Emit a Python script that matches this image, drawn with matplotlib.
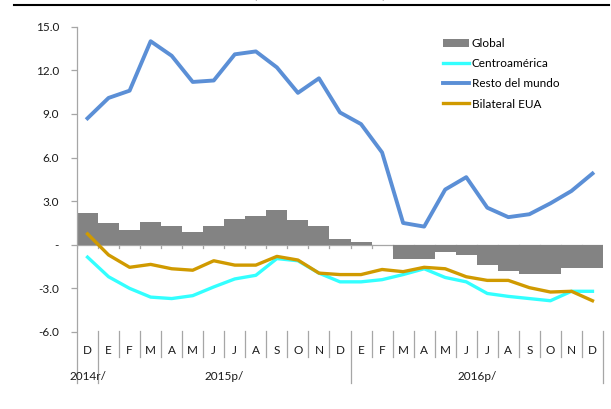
import numpy as np
import matplotlib
matplotlib.use("Agg")
import matplotlib.pyplot as plt
from matplotlib.lines import Line2D

plt.rcParams['font.family'] = ['Lato', 'DejaVu Sans']

# monthly data, Dec 2014 - Dec 2016
months = ["D", "E", "F", "M", "A", "M", "J", "J", "A", "S", "O", "N",
          "D", "E", "F", "M", "A", "M", "J", "J", "A", "S", "O", "N", "D"]
years = ["2014r/", "2015p/", "2016p/"]
year_spans = [(0, 1), (1, 13), (13, 25)]

global_vals = [2.2, 1.5, 1.0, 1.6, 1.3, 0.9, 1.3, 1.8, 2.0, 2.4, 1.7, 1.3,
               0.4, 0.2, 0.0, -1.0, -1.0, -0.5, -0.7, -1.4, -1.8, -2.0, -2.0, -1.6, -1.6]
centroamerica = [-0.85, -2.2, -3.0, -3.6, -3.7, -3.5, -2.9, -2.35, -2.1, -0.95, -1.1, -1.95,
                 -2.55, -2.55, -2.4, -2.05, -1.65, -2.25, -2.55, -3.35, -3.55, -3.7, -3.85, -3.2, -3.2]
resto_mundo = [8.7, 10.1, 10.6, 14.0, 13.0, 11.2, 11.3, 13.1, 13.3, 12.2, 10.45, 11.45,
               9.1, 8.3, 6.35, 1.5, 1.25, 3.8, 4.65, 2.55, 1.9, 2.1, 2.85, 3.7, 4.9]
bilateral_eua = [0.75, -0.7, -1.55, -1.35, -1.65, -1.75, -1.1, -1.4, -1.4, -0.8, -1.05, -1.95,
                 -2.05, -2.05, -1.7, -1.85, -1.55, -1.65, -2.2, -2.45, -2.45, -2.95, -3.25, -3.2, -3.85]

yticks = [15, 12, 9, 6, 3, 0, -3, -6]
ytick_labels = ["15.0", "12.0", "9.0", "6.0", "3.0", "-", "-3.0", "-6.0"]

axis_gray = "#A6A6A6"
fs = 8.5

fig = plt.figure(figsize=(6.11, 4.09), dpi=100)
ax = fig.add_axes([77 / 611, 1 - 332 / 409, 526 / 611, (332 - 26.7) / 409])

x = np.arange(len(months)) + 0.5
ax.bar(x, global_vals, width=1.0, color="#838383", linewidth=0, zorder=2, label="Global")
ax.plot(x, centroamerica, color="#33FFFF", lw=2.4, zorder=3, label="Centroamérica")
ax.plot(x, resto_mundo, color="#5B8FD6", lw=2.8, zorder=4, label="Resto del mundo")
ax.plot(x, bilateral_eua, color="#D09A00", lw=2.4, zorder=5, label="Bilateral EUA")

ax.set_xlim(0, len(months))
ax.set_ylim(-6, 15)

# zero line with small ticks between months
ax.axhline(0, color=axis_gray, lw=0.9, zorder=1)
for b in range(len(months) + 1):
    ax.plot([b, b], [0, -0.22], color=axis_gray, lw=0.9, zorder=1)

for s in ["top", "right", "bottom", "left"]:
    ax.spines[s].set_visible(False)

ax.set_yticks(yticks)
ax.set_yticklabels(ytick_labels)
ax.tick_params(axis="y", length=4, width=0.9, color=axis_gray, pad=9, labelsize=fs,
               labelcolor="#1a1a1a")
ax.set_xticks([])

# category axis below the plot
xt = ax.get_xaxis_transform()
ax.plot([0, 0], [1, -0.167], transform=xt, color=axis_gray, lw=0.9, clip_on=False)
for b in range(1, len(months) + 1):
    bottom = -0.167 if b in (1, 13, 25) else -0.082
    ax.plot([b, b], [0.002, bottom], transform=xt, color=axis_gray, lw=0.9, clip_on=False)
for xi, m in zip(x, months):
    ax.text(xi, -0.06, m, transform=xt, ha="center", va="center", fontsize=fs, color="#1a1a1a")
for (a, b), yr in zip(year_spans, years):
    ax.text((a + b) / 2, -0.145, yr, transform=xt, ha="center", va="center", fontsize=fs,
            color="#1a1a1a")

handles, labels = ax.get_legend_handles_labels()
order = [3, 0, 1, 2]
ax.legend([handles[i] for i in order], [labels[i] for i in order],
          loc="upper left", bbox_to_anchor=(443 / 611, 1 - 38 / 409),
          bbox_transform=fig.transFigure, frameon=False, fontsize=fs,
          borderpad=0, borderaxespad=0, labelspacing=0.78, handlelength=2.2,
          handletextpad=0.25)

# header rule and heading text above it
fig.add_artist(Line2D([14 / 611, 609 / 611], [1 - 5 / 409, 1 - 5 / 409],
                      transform=fig.transFigure, color="black", lw=1.5))
fig.text(320 / 611, 1 + 2 / 409, "(variaciones interanuales)", ha="center", va="baseline",
         fontsize=fs, color="#404040")

fig.savefig("out.png", dpi=100)
